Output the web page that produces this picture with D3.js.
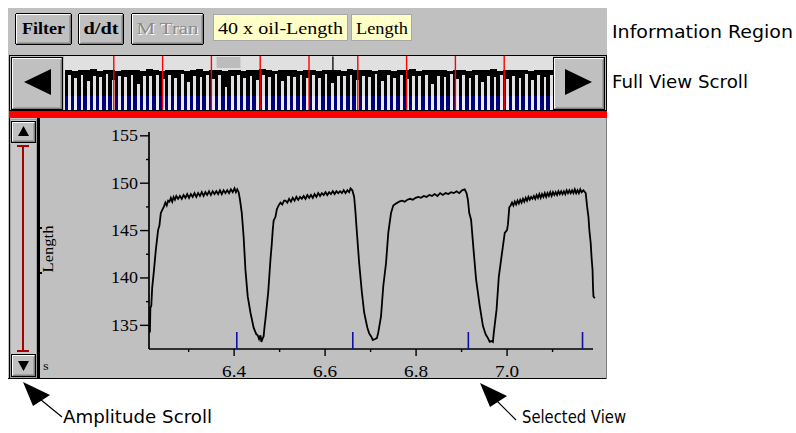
<!DOCTYPE html>
<html><head><meta charset="utf-8">
<script src="https://cdn.jsdelivr.net/npm/d3@7"></script>
<style>html,body{margin:0;padding:0;background:#fff;}svg{display:block}</style>
</head><body>
<svg id="c" width="796" height="433"></svg>
<script>
// ---------------- DATA ----------------
const buttonLabels = ["Filter", "d/dt", "M Tran"];
const infoFields = ["40 x oil-Length", "Length"];
const regionLabels = ["Information Region", "Full View Scroll", "Amplitude Scroll", "Selected View"];
const yAxisTitle = "Length";
const xAxisUnit = "s";

const yTicks = [135, 140, 145, 150, 155];
const yMinorTicks = [137.5, 142.5, 147.5, 152.5];
const xTicks = [6.4, 6.6, 6.8, 7.0];
const xMinorTicks = [6.3, 6.5, 6.7, 6.9, 7.1];
const viewDomain = [6.214, 7.19];
const lengthDomain = [132.45, 155.35];

const eventTimes = [6.407, 6.662, 6.916, 7.167];

const traceTime = [
 6.216,6.217,6.219,6.221,6.225,6.229,6.234,6.237,6.240,6.244,6.247,6.250,6.253,6.256,6.259,6.262,6.265,6.268,6.271,6.274,
 6.278,6.282,6.286,6.290,6.294,6.298,6.302,6.306,6.310,6.314,6.318,6.322,6.326,6.330,6.334,6.338,6.342,6.346,6.350,6.354,
 6.358,6.362,6.366,6.370,6.374,6.378,6.382,6.386,6.390,6.394,6.398,6.402,6.405,6.408,
 6.411,6.414,6.418,6.422,6.426,6.431,6.437,6.444,6.450,6.453,6.456,6.459,6.461,6.464,6.466,6.468,6.470,6.476,6.481,6.484,
 6.486,6.488,6.492,6.495,6.499,6.503,6.507,6.511,
 6.514,6.518,6.522,6.526,6.530,6.534,6.538,6.542,6.546,6.550,6.554,6.558,6.562,6.566,6.570,6.574,6.578,6.582,6.586,6.590,
 6.594,6.598,6.602,6.606,6.610,6.614,6.618,6.622,6.626,6.630,6.634,6.638,6.642,6.646,6.650,6.654,6.657,
 6.661,6.665,6.668,6.670,6.676,6.682,6.687,6.694,6.698,6.702,6.706,6.711,6.715,6.718,6.724,6.729,6.735,6.740,6.746,6.751,
 6.757,6.764,
 6.770,6.776,6.782,6.788,6.794,6.800,6.806,6.812,6.818,6.824,6.830,6.836,6.842,6.848,6.854,6.860,6.866,6.872,6.878,6.884,
 6.890,6.896,6.902,6.908,
 6.912,6.915,6.918,6.922,6.928,6.933,6.941,6.948,6.954,6.959,6.963,6.967,6.970,6.972,6.978,6.983,6.990,6.996,7.001,7.003,
 7.006,7.009,
 7.012,7.015,7.018,7.021,7.024,7.027,7.030,7.033,7.036,7.039,7.042,7.045,7.048,7.051,7.054,7.057,7.060,7.063,7.066,7.069,
 7.072,7.075,7.078,7.081,7.084,7.087,7.090,7.093,7.096,7.099,7.102,7.105,7.108,7.111,7.114,7.117,7.120,7.123,7.126,7.129,
 7.132,7.135,7.138,7.141,7.144,7.147,7.150,7.153,7.156,7.159,7.162,7.165,7.169,
 7.174,7.177,7.180,7.182,7.185,7.187,7.189,7.190,7.191,7.194
];
const traceLength = [
 134.2,136.8,137.0,138.9,140.8,142.9,145.0,145.5,146.8,147.2,147.5,147.9,147.6,148.1,148.0,148.4,148.0,148.5,148.2,148.6,
 148.3,148.6,148.3,148.7,148.4,148.8,148.4,148.8,148.5,148.9,148.5,148.9,148.6,149.0,148.6,149.0,148.7,149.1,148.7,149.1,
 148.8,149.1,148.8,149.2,148.8,149.2,148.9,149.2,148.9,149.3,149.0,149.4,149.0,149.3,
 149.0,148.2,146.8,144.3,140.8,138.0,136.3,134.7,134.0,133.9,133.5,133.9,133.2,133.6,133.8,134.8,135.6,138.4,141.9,143.6,
 145.0,146.0,146.4,147.2,147.6,147.9,147.7,148.1,
 148.1,147.9,148.3,148.0,148.4,148.1,148.5,148.2,148.5,148.3,148.6,148.3,148.7,148.4,148.7,148.4,148.8,148.5,148.9,148.6,
 148.9,148.7,149.0,148.7,149.0,148.8,149.1,148.8,149.1,148.9,149.1,148.9,149.2,148.9,149.2,149.0,149.4,
 149.2,148.5,146.8,145.4,141.5,138.4,136.3,134.7,134.1,133.8,133.4,133.5,133.6,134.2,135.9,139.1,141.5,144.7,146.8,147.6,
 147.8,148.0,
 148.1,148.0,148.2,148.3,148.2,148.4,148.5,148.4,148.6,148.5,148.7,148.6,148.8,148.6,148.9,148.7,148.9,148.8,149.0,148.9,
 149.1,148.9,149.2,149.3,
 148.9,148.2,146.8,146.1,142.6,139.8,137.0,134.9,134.0,133.6,133.2,133.3,133.2,134.2,136.6,140.1,142.6,144.7,145.0,145.6,
 147.4,147.6,
 147.9,147.6,148.0,147.7,148.1,147.8,148.2,147.9,148.3,148.0,148.4,148.1,148.5,148.2,148.5,148.3,148.6,148.3,148.7,148.4,
 148.8,148.4,148.8,148.5,148.9,148.5,148.9,148.6,149.0,148.6,149.0,148.7,149.0,148.7,149.1,148.8,149.1,148.8,149.1,148.8,
 149.2,148.9,149.2,148.9,149.2,148.9,149.3,148.9,149.2,148.9,149.3,149.0,149.2,
 148.9,147.5,146.4,145.0,143.6,142.0,140.8,139.0,138.0,137.8
];

const overviewDomain = [0, 20];
const overviewLengthDomain = [132, 150];
const overviewMarks = [2, 4, 6, 8, 10, 12, 14, 16, 18];
const overviewPeaks = [
 149.6,149.3,149.7,149.4,149.8,149.2,149.6,149.5,149.3,149.7,149.4,149.6,149.2,149.8,149.5,149.3,149.6,149.4,149.7,149.2,
 149.5,149.8,149.3,149.6,149.4,149.0,149.5,149.7,149.3,149.6,149.4,149.8,149.5,149.2,149.6,149.4,149.7,149.3,149.5,149.6,
 149.2,149.7,149.4,149.6,149.3,149.8,149.5,149.4,149.6,149.3,149.7,149.5,149.2,149.6,149.4,149.8,149.3,149.5,149.6,149.4,
 149.7,149.3,149.5,149.6,149.2,149.7,149.4,149.5,149.8,149.3,149.6,149.4,149.5,149.7,149.3,149.6,149.4,149.5
];
const overviewGapTops = [
 147.2,146.0,147.5,144.8,147.0,146.5,147.6,145.2,147.1,146.3,147.4,143.5,147.0,146.8,147.5,145.8,147.2,146.1,147.6,144.2,
 147.0,146.6,147.4,145.5,147.3,142.0,146.9,147.5,146.2,147.1,145.0,147.4,146.7,147.6,144.6,147.0,146.4,147.5,145.9,147.2,
 146.0,147.6,143.8,147.1,146.8,147.4,145.3,147.0,146.5,147.6,144.9,147.2,146.1,147.5,145.6,147.0,146.9,147.4,143.2,147.1,
 146.4,147.6,145.7,147.2,146.0,147.5,144.5,147.0,146.7,147.4,145.4,147.1,146.2,147.6,145.0,147.3,146.6,147.5
];
const overviewSpikeTime = [10.98];
const overviewSpikeLength = [155.5];

// ---------------- DRAWING ----------------
const svg = d3.select("#c");
const W = 796, H = 433;
svg.append("rect").attr("width", W).attr("height", H).attr("fill", "#fff");

const GRAY = "#c0c0c0", DARK = "#808080";

svg.append("rect").attr("x", 8).attr("y", 8).attr("width", 599).attr("height", 371).attr("fill", GRAY);

function bevel(g, x, y, w, h, opts = {}) {
  const grp = g.append("g").attr("shape-rendering", "crispEdges");
  grp.append("rect").attr("x", x + 0.5).attr("y", y + 0.5).attr("width", w - 1).attr("height", h - 1)
    .attr("fill", opts.fill || GRAY).attr("stroke", opts.border || "#000").attr("rx", opts.rx || 0);
  grp.append("path").attr("d", `M${x + 1.5},${y + h - 2.5}V${y + 1.5}H${x + w - 2.5}`).attr("fill", "none").attr("stroke", "#fff");
  grp.append("path").attr("d", `M${x + 1.5},${y + h - 1.5}H${x + w - 1.5}V${y + 1.5}`).attr("fill", "none").attr("stroke", DARK);
  grp.append("path").attr("d", `M${x + 2.5},${y + h - 2.5}H${x + w - 2.5}V${y + 2.5}`).attr("fill", "none").attr("stroke", DARK).attr("stroke-opacity", 0.5);
  return grp;
}

// ---- Information region
const btnGeo = [{x: 15, w: 57}, {x: 78, w: 46}, {x: 131, w: 73}];
const btnText = [{w: 43, bold: true, col: "#000"}, {w: 35, bold: true, col: "#000"}, {w: 62, bold: false, col: "#8a8a8a"}];
buttonLabels.forEach((lab, i) => {
  bevel(svg, btnGeo[i].x, 13, btnGeo[i].w, 32, {rx: 2});
  const cx = btnGeo[i].x + btnGeo[i].w / 2;
  if (!btnText[i].bold) {
    svg.append("text").attr("x", cx + 1).attr("y", 35).attr("text-anchor", "middle")
      .attr("font-family", "Liberation Serif").attr("font-size", 16).attr("fill", "#fff")
      .attr("textLength", btnText[i].w).attr("lengthAdjust", "spacingAndGlyphs").text(lab);
  }
  svg.append("text").attr("x", cx).attr("y", 34).attr("text-anchor", "middle")
    .attr("font-family", "Liberation Serif").attr("font-size", 16)
    .attr("font-weight", btnText[i].bold ? "bold" : "normal").attr("fill", btnText[i].col)
    .attr("textLength", btnText[i].w).attr("lengthAdjust", "spacingAndGlyphs").text(lab);
});
const fieldGeo = [{x: 213, w: 135, tw: 125}, {x: 351, w: 61, tw: 52}];
infoFields.forEach((f, i) => {
  svg.append("rect").attr("x", fieldGeo[i].x + 0.5).attr("y", 14.5).attr("width", fieldGeo[i].w - 1).attr("height", 26)
    .attr("fill", "#ffffc8").attr("stroke", "#a8a8a8").attr("shape-rendering", "crispEdges");
  svg.append("text").attr("x", fieldGeo[i].x + 5).attr("y", 34)
    .attr("font-family", "Liberation Serif").attr("font-size", 17.5).attr("fill", "#000")
    .attr("textLength", fieldGeo[i].tw).attr("lengthAdjust", "spacingAndGlyphs").text(f);
});

// ---- Full view scroll (overview)
svg.append("rect").attr("x", 9.5).attr("y", 55.5).attr("width", 597).attr("height", 55)
  .attr("fill", GRAY).attr("stroke", "#000").attr("shape-rendering", "crispEdges");
const trackX0 = 64, trackX1 = 553, trackY0 = 56, trackY1 = 110, blueY = 96;
svg.append("rect").attr("x", trackX0).attr("y", trackY0).attr("width", trackX1 - trackX0).attr("height", trackY1 - trackY0).attr("fill", "#e0e0e0");

const ox = d3.scaleLinear().domain(overviewDomain).range([65, 553]);
const oy = d3.scaleLinear().domain(overviewLengthDomain).range([trackY1, 69]);
const band = d3.scaleBand().domain(d3.range(overviewPeaks.length)).range([65, 553]).paddingInner(0);

svg.append("rect").attr("x", ox(viewDomain[0])).attr("y", 57).attr("width", ox(viewDomain[1]) - ox(viewDomain[0])).attr("height", 11)
  .attr("fill", "#bcbcbc");

const ov = svg.append("g").attr("shape-rendering", "crispEdges");
ov.selectAll("rect.pk").data(overviewPeaks).join("rect").attr("class", "pk")
  .attr("x", (d, i) => band(i)).attr("width", band.bandwidth() + 0.4)
  .attr("y", d => oy(d)).attr("height", d => blueY - oy(d)).attr("fill", "#000");
ov.selectAll("rect.bl").data(overviewPeaks).join("rect").attr("class", "bl")
  .attr("x", (d, i) => band(i)).attr("width", band.bandwidth() + 0.4)
  .attr("y", blueY).attr("height", trackY1 - blueY).attr("fill", "#00007c");
ov.selectAll("rect.gp").data(overviewGapTops).join("rect").attr("class", "gp")
  .attr("x", (d, i) => band(i) + band.bandwidth() * 0.5).attr("width", 2.8)
  .attr("y", d => oy(d)).attr("height", d => blueY - oy(d)).attr("fill", "#e0e0e0");
ov.selectAll("rect.gb").data(overviewGapTops).join("rect").attr("class", "gb")
  .attr("x", (d, i) => band(i) + band.bandwidth() * 0.5).attr("width", 2.8)
  .attr("y", blueY).attr("height", trackY1 - blueY).attr("fill", "#ececf4");
overviewSpikeTime.forEach((t, i) => {
  svg.append("line").attr("x1", ox(t)).attr("x2", ox(t)).attr("y1", oy(overviewSpikeLength[i])).attr("y2", oy(149.5))
    .attr("stroke", "#000").attr("stroke-width", 1.3);
});
svg.selectAll("line.om").data(overviewMarks).join("line").attr("class", "om")
  .attr("x1", d => ox(d)).attr("x2", d => ox(d)).attr("y1", trackY0).attr("y2", trackY1)
  .attr("stroke", "#ff0000").attr("stroke-width", 1.4);

bevel(svg, 11, 57, 52, 53);
bevel(svg, 553, 57, 52, 53);
svg.append("path").attr("d", "M24,82L51,69V95Z").attr("fill", "#000");
svg.append("path").attr("d", "M592,82L565,69V95Z").attr("fill", "#000");

svg.append("rect").attr("x", 9).attr("y", 111).attr("width", 598).attr("height", 7).attr("fill", "#ff0000");

// ---- main area
svg.append("line").attr("x1", 8).attr("x2", 607).attr("y1", 378.5).attr("y2", 378.5).attr("stroke", "#000").attr("shape-rendering", "crispEdges");
svg.append("line").attr("x1", 9.5).attr("x2", 9.5).attr("y1", 118).attr("y2", 379).attr("stroke", "#000").attr("shape-rendering", "crispEdges");
svg.append("line").attr("x1", 606.5).attr("x2", 606.5).attr("y1", 118).attr("y2", 379).attr("stroke", "#808080").attr("shape-rendering", "crispEdges");

svg.append("rect").attr("x", 10.5).attr("y", 119.5).attr("width", 26).attr("height", 258).attr("fill", "#c8c8c8").attr("stroke", "#a0a0a0").attr("shape-rendering", "crispEdges");
bevel(svg, 11, 121, 25, 22);
bevel(svg, 11, 354, 25, 23);
svg.append("path").attr("d", "M23.5,126L29,136H18Z").attr("fill", "#000");
svg.append("path").attr("d", "M23.5,371L29,361H18Z").attr("fill", "#000");
const amp = svg.append("g").attr("stroke", "#a80000").attr("stroke-width", 2).attr("shape-rendering", "crispEdges");
amp.append("line").attr("x1", 22.5).attr("x2", 22.5).attr("y1", 145).attr("y2", 352);
amp.append("line").attr("x1", 17).attr("x2", 29).attr("y1", 146).attr("y2", 146);
amp.append("line").attr("x1", 17).attr("x2", 29).attr("y1", 351).attr("y2", 351);
svg.append("rect").attr("x", 37).attr("y", 118).attr("width", 3).attr("height", 261).attr("fill", "#000");
svg.append("rect").attr("x", 40).attr("y", 227).attr("width", 2).attr("height", 2).attr("fill", "#000");
svg.append("rect").attr("x", 40).attr("y", 272).attr("width", 2).attr("height", 2).attr("fill", "#000");

// plot
const x = d3.scaleLinear().domain(viewDomain).range([149, 593]);
const y = d3.scaleLinear().domain(lengthDomain).range([349, 132]);
const plot = svg.append("g");
const tickFont = "Liberation Serif";

const yAxis = plot.append("g").attr("transform", "translate(149,0)")
  .call(d3.axisLeft(y).tickValues(yTicks).tickSize(9).tickPadding(2).tickFormat(d3.format("d")));
yAxis.select(".domain").attr("d", `M0,${y.range()[1]}V${y.range()[0]}`).attr("stroke-width", 1.7);
yAxis.selectAll(".tick line").attr("stroke-width", 1.4);
yAxis.selectAll(".tick text").attr("font-family", tickFont).attr("font-size", 16).attr("fill", "#000")
  .attr("dy", "0.34em").attr("textLength", 27).attr("lengthAdjust", "spacingAndGlyphs");
const yMinor = plot.append("g").attr("transform", "translate(149,0)")
  .call(d3.axisLeft(y).tickValues(yMinorTicks).tickSize(3).tickFormat(""));
yMinor.select(".domain").remove();
yMinor.selectAll(".tick line").attr("stroke-width", 1.4);

const xAxis = plot.append("g").attr("transform", "translate(0,349)")
  .call(d3.axisBottom(x).tickValues(xTicks).tickSize(7).tickPadding(10).tickFormat(d3.format(".1f")));
xAxis.select(".domain").attr("d", `M${x.range()[0]},0H${x.range()[1]}`).attr("stroke-width", 1.7);
xAxis.selectAll(".tick line").attr("stroke-width", 1.4);
xAxis.selectAll(".tick text").attr("font-family", tickFont).attr("font-size", 16).attr("fill", "#000")
  .attr("dy", 0).attr("y", 28).attr("textLength", 24).attr("lengthAdjust", "spacingAndGlyphs");
const xMinor = plot.append("g").attr("transform", "translate(0,349)")
  .call(d3.axisBottom(x).tickValues(xMinorTicks).tickSize(3).tickFormat(""));
xMinor.select(".domain").remove();
xMinor.selectAll(".tick line").attr("stroke-width", 1.4);

plot.selectAll("line.ev").data(eventTimes).join("line").attr("class", "ev")
  .attr("x1", d => x(d)).attr("x2", d => x(d)).attr("y1", 349).attr("y2", 332)
  .attr("stroke", "#1010a0").attr("stroke-width", 1.6);

const traceData = traceTime.map((t, i) => [t, traceLength[i]]);
plot.append("path").datum(traceData)
  .attr("d", d3.line().x(d => x(d[0])).y(d => y(d[1])))
  .attr("fill", "none").attr("stroke", "#000").attr("stroke-width", 1.8).attr("stroke-linejoin", "miter");

svg.append("text").attr("transform", "translate(53,249) rotate(-90)").attr("text-anchor", "middle")
  .attr("font-family", "Liberation Serif").attr("font-size", 15).attr("fill", "#000")
  .attr("textLength", 47).attr("lengthAdjust", "spacingAndGlyphs").text(yAxisTitle);
svg.append("text").attr("x", 43).attr("y", 370).attr("font-family", "DejaVu Serif").attr("font-size", 11).attr("fill", "#000").text(xAxisUnit);

// ---- annotations
const annoFont = "DejaVu Sans";
svg.append("text").attr("x", 612).attr("y", 38).attr("font-family", annoFont).attr("font-size", 18)
  .attr("textLength", 181).attr("lengthAdjust", "spacingAndGlyphs").text(regionLabels[0]);
svg.append("text").attr("x", 612).attr("y", 88).attr("font-family", annoFont).attr("font-size", 18)
  .attr("textLength", 136).attr("lengthAdjust", "spacingAndGlyphs").text(regionLabels[1]);
svg.append("text").attr("x", 63).attr("y", 423).attr("font-family", annoFont).attr("font-size", 17.5)
  .attr("textLength", 149).attr("lengthAdjust", "spacingAndGlyphs").text(regionLabels[2]);
svg.append("text").attr("x", 522).attr("y", 423).attr("font-family", annoFont).attr("font-size", 17.5)
  .attr("textLength", 104).attr("lengthAdjust", "spacingAndGlyphs").text(regionLabels[3]);

function arrow(tx, ty, ex, ey) {
  svg.append("line").attr("x1", tx + 12).attr("y1", ty + 13).attr("x2", ex).attr("y2", ey).attr("stroke", "#000").attr("stroke-width", 1.2);
  svg.append("path").attr("d", `M${tx},${ty}L${tx + 27},${ty + 13}L${tx + 10},${ty + 24}Z`).attr("fill", "#000");
}
arrow(23, 382, 62, 417);
arrow(480, 383, 516, 420);
</script>
</body></html>
